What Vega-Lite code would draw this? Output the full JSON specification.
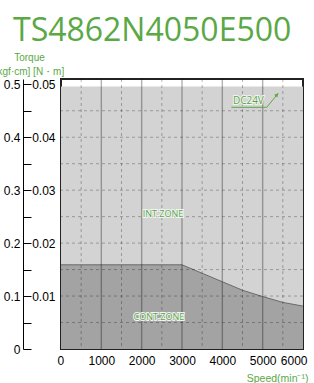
{
  "$schema": "https://vega.github.io/schema/vega-lite/v6.json",
  "width": 242,
  "height": 270,
  "autosize": {"type": "none"},
  "padding": {"left": 61, "top": 79, "right": 11, "bottom": 34},
  "title": {"text": "TS4862N4050E500", "anchor": "start", "frame": "group", "font": "Open Sans", "fontSize": 32, "fontWeight": "normal", "color": "#5aa846", "dx": -48, "dy": 30, "offset": 9, "baseline": "alphabetic"},
  "config": {
    "view": {"stroke": "#222222", "strokeWidth": 2},
    "axis": {"labelFont": "Liberation Sans", "labelFontSize": 12, "labelColor": "#000000", "grid": false, "titleFont": "Liberation Sans"}
  },
  "resolve": {"axis": {"y": "independent"}},
  "datasets": {
    "intzone": [{"speed": 0, "torque": 0.0496}, {"speed": 6000, "torque": 0.0496}],
    "contzone": [
      {"speed": 0, "torque": 0.0159},
      {"speed": 3000, "torque": 0.0159},
      {"speed": 3500, "torque": 0.0143},
      {"speed": 4000, "torque": 0.0127},
      {"speed": 4500, "torque": 0.0111},
      {"speed": 5000, "torque": 0.0099},
      {"speed": 5500, "torque": 0.0088},
      {"speed": 6000, "torque": 0.0081}
    ],
    "vsolid": [{"speed": 1000}, {"speed": 2000}, {"speed": 3000}, {"speed": 4000}, {"speed": 5000}],
    "vdash": [{"speed": 500}, {"speed": 1500}, {"speed": 2500}, {"speed": 3500}, {"speed": 4500}, {"speed": 5500}],
    "hdash": [{"torque": 0.005}, {"torque": 0.01}, {"torque": 0.015}, {"torque": 0.02}, {"torque": 0.025}, {"torque": 0.03}, {"torque": 0.035}, {"torque": 0.04}, {"torque": 0.045}],
    "arrow": [{"speed": 4224, "torque": 0.04565, "o": 1}, {"speed": 5100, "torque": 0.04565, "o": 2}, {"speed": 5387, "torque": 0.0483, "o": 3}],
    "arrowhead": [{"speed": 5355, "torque": 0.04802}],
    "labels": [
      {"label": "INT.ZONE", "speed": 2529, "torque": 0.02554},
      {"label": "CONT.ZONE", "speed": 2425, "torque": 0.0061},
      {"label": "DC24V", "speed": 4645, "torque": 0.04679}
    ]
  },
  "layer": [
    {
      "data": {"name": "intzone"},
      "mark": {"type": "area", "color": "#d3d3d3"},
      "encoding": {
        "x": {"field": "speed", "type": "quantitative", "scale": {"domain": [0, 6000], "nice": false},
          "axis": {"values": [0, 1000, 2000, 3000, 4000, 5000, 6000], "format": "d", "domain": false, "ticks": false, "tickSize": 0, "labelPadding": 6, "labelFlush": true, "labelFlushOffset": 4, "labelOverlap": false, "grid": false,
            "title": "Speed(min⁻¹)", "titleColor": "#5aa846", "titleFontSize": 10.5, "titleFontWeight": "normal", "titleAlign": "right", "titleAnchor": "end", "titleX": 247, "titleY": 29, "titleBaseline": "middle"}},
        "y": {"field": "torque", "type": "quantitative", "scale": {"domain": [0, 0.051], "nice": false, "zero": true},
          "axis": {"orient": "left", "offset": 0, "values": [0.01, 0.02, 0.03, 0.04, 0.05], "format": ".2f", "domain": false, "ticks": false, "tickSize": 0, "labelPadding": 6, "labelFlush": false, "grid": false,
            "title": ["Torque", "[kgf·cm] [N・m]"], "titleAngle": 0, "titleAlign": "center", "titleBaseline": "top", "titleX": -32, "titleY": -27, "titleColor": "#5aa846", "titleFontSize": 10, "titleFontWeight": "normal", "titleLineHeight": 14}}
      }
    },
    {
      "data": {"name": "contzone"},
      "mark": {"type": "area", "color": "#8f8f8f", "line": {"color": "#6a6a6a", "strokeWidth": 1}},
      "encoding": {
        "x": {"field": "speed", "type": "quantitative", "scale": {"domain": [0, 6000], "nice": false}},
        "y": {"field": "torque", "type": "quantitative", "scale": {"domain": [0, 0.051], "nice": false, "zero": true},
          "axis": {"orient": "left", "offset": 30, "values": [0, 0.005, 0.01, 0.015, 0.02, 0.025, 0.03, 0.035, 0.04, 0.045, 0.05], "domain": false, "ticks": true, "tickSize": 8, "tickColor": "#000000", "tickWidth": 1, "labelPadding": 3, "labelFlush": false, "grid": false, "title": null,
            "labelExpr": "round(datum.value*1000) % 10 == 0 ? (datum.value == 0 ? '0' : format(datum.value*10, '.1f')) : ''"}}
      }
    },
    {
      "data": {"name": "vsolid"},
      "mark": {"type": "rule", "color": "#000000", "opacity": 0.3, "strokeWidth": 1.4},
      "encoding": {"x": {"field": "speed", "type": "quantitative", "scale": {"domain": [0, 6000], "nice": false}}}
    },
    {
      "data": {"name": "vdash"},
      "mark": {"type": "rule", "color": "#000000", "opacity": 0.28, "strokeWidth": 1, "strokeDash": [3, 3]},
      "encoding": {"x": {"field": "speed", "type": "quantitative", "scale": {"domain": [0, 6000], "nice": false}}}
    },
    {
      "data": {"name": "hdash"},
      "mark": {"type": "rule", "color": "#000000", "opacity": 0.28, "strokeWidth": 1, "strokeDash": [3, 3]},
      "encoding": {"y": {"field": "torque", "type": "quantitative", "scale": {"domain": [0, 0.051], "nice": false, "zero": true}, "axis": null}}
    },
    {
      "data": {"name": "arrow"},
      "mark": {"type": "line", "color": "#5aa846", "strokeWidth": 1},
      "encoding": {
        "x": {"field": "speed", "type": "quantitative", "scale": {"domain": [0, 6000], "nice": false}},
        "y": {"field": "torque", "type": "quantitative", "scale": {"domain": [0, 0.051], "nice": false, "zero": true}, "axis": null},
        "order": {"field": "o", "type": "quantitative"}
      }
    },
    {
      "data": {"name": "arrowhead"},
      "mark": {"type": "point", "shape": "triangle-up", "filled": true, "color": "#5aa846", "opacity": 1, "size": 18, "angle": 40},
      "encoding": {
        "x": {"field": "speed", "type": "quantitative", "scale": {"domain": [0, 6000], "nice": false}},
        "y": {"field": "torque", "type": "quantitative", "scale": {"domain": [0, 0.051], "nice": false, "zero": true}, "axis": null}
      }
    },
    {
      "data": {"name": "labels"},
      "mark": {"type": "text", "font": "Open Sans", "fill": "#f2f2f2", "stroke": "#f2f2f2", "strokeWidth": 2, "align": "center", "baseline": "middle"},
      "encoding": {
        "x": {"field": "speed", "type": "quantitative", "scale": {"domain": [0, 6000], "nice": false}},
        "y": {"field": "torque", "type": "quantitative", "scale": {"domain": [0, 0.051], "nice": false, "zero": true},
          "axis": {"orient": "left", "offset": 38, "domain": true, "domainColor": "#000000", "domainWidth": 1, "ticks": false, "tickSize": 0, "labels": false, "grid": false, "title": null}},
        "text": {"field": "label"},
        "size": {"condition": {"test": "datum.label === 'DC24V'", "value": 10}, "value": 9}
      }
    },
    {
      "data": {"name": "labels"},
      "mark": {"type": "text", "font": "Open Sans", "color": "#5aa846", "align": "center", "baseline": "middle"},
      "encoding": {
        "x": {"field": "speed", "type": "quantitative", "scale": {"domain": [0, 6000], "nice": false}},
        "y": {"field": "torque", "type": "quantitative", "scale": {"domain": [0, 0.051], "nice": false, "zero": true}, "axis": null},
        "text": {"field": "label"},
        "size": {"condition": {"test": "datum.label === 'DC24V'", "value": 10}, "value": 9}
      }
    }
  ]
}
